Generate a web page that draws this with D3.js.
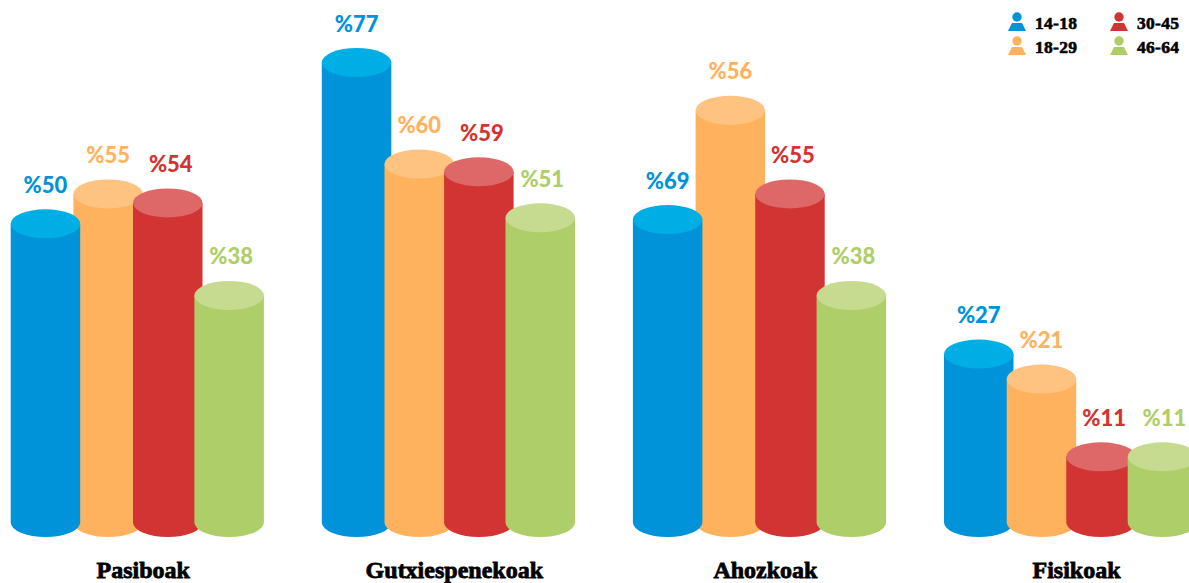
<!DOCTYPE html>
<html>
<head>
<meta charset="utf-8">
<script src="https://cdn.jsdelivr.net/npm/d3@7"></script>
<style>
  html, body { margin: 0; padding: 0; background: #fff; overflow: hidden; }
  .value { font-family: Lato, sans-serif; font-weight: 900; font-size: 22px; text-anchor: middle; }
  .category, .legend-text { font-family: "Liberation Serif", serif; font-weight: 700; fill: #000; stroke: #000; }
  .category { font-size: 24px; text-anchor: middle; stroke-width: 0.8px; }
  .legend-text { font-size: 17.5px; stroke-width: 0.6px; letter-spacing: 0.3px; }
</style>
</head>
<body>
<div id="container"></div>
<script>
const categories = ['Pasiboak', 'Gutxiespenekoak', 'Ahozkoak', 'Fisikoak'];
const ageGroups = ['14-18', '18-29', '30-45', '46-64'];

// printed labels
const labels1418 = [50, 77, 69, 27];
const labels1829 = [55, 60, 56, 21];
const labels3045 = [54, 59, 55, 11];
const labels4664 = [38, 51, 38, 11];

// bar heights as drawn, they don't always follow the label (Ahozkoak)
const heights1418 = [50, 77, 50.7, 28.2];
const heights1829 = [55, 60, 69, 24];
const heights3045 = [53.5, 58.7, 55, 11];
const heights4664 = [38, 51, 38, 11];

const bodyColors = ['#0093d9', '#ffb25e', '#d13432', '#aece69'];
const topColors = ['#00aee6', '#ffc381', '#de6868', '#c6da90'];

const svgWidth = 1189;
const svgHeight = 583;
const barWidth = 69.5;
const rx = barWidth / 2;
const ry = 14.5;

const svg = d3
  .select('#container')
  .append('svg')
  .attr('width', svgWidth)
  .attr('height', svgHeight)
  .style('display', 'block');

const groupX = d3.scalePoint().domain(categories).range([10.7, 944]);
const barOffset = d3.scaleOrdinal().domain(ageGroups).range([0, 62.7, 122.3, 183.7]);
const labelNudge = d3.scaleOrdinal().domain(ageGroups).range([0, 0, 3, 2]);
const y = d3.scaleLinear().domain([0, 77]).range([522.5, 62.5]);
const color = d3.scaleOrdinal().domain(ageGroups).range(bodyColors);
const topColor = d3.scaleOrdinal().domain(ageGroups).range(topColors);

const allLabels = [labels1418, labels1829, labels3045, labels4664];
const allHeights = [heights1418, heights1829, heights3045, heights4664];

const bars = ageGroups.flatMap((age, s) =>
  categories.map((category, c) => ({
    age,
    category,
    label: allLabels[s][c],
    height: allHeights[s][c]
  }))
);

// shorter cylinders stand in front of taller ones
const ordered = bars.slice().sort((a, b) => b.height - a.height);

const cylinder = d => {
  const left = groupX(d.category) + barOffset(d.age);
  const right = left + barWidth;
  return `M${left},${y(d.height)}V${y(0)}A${rx},${ry} 0 0 0 ${right},${y(0)}V${y(d.height)}Z`;
};

// Cylinders
const bar = svg
  .selectAll('g.bar')
  .data(ordered)
  .enter()
  .append('g')
  .attr('class', 'bar');

bar
  .append('path')
  .attr('d', cylinder)
  .attr('fill', d => color(d.age));

bar
  .append('ellipse')
  .attr('cx', d => groupX(d.category) + barOffset(d.age) + rx)
  .attr('cy', d => y(d.height))
  .attr('rx', rx)
  .attr('ry', ry)
  .attr('fill', d => topColor(d.age));

// Value labels
svg
  .selectAll('text.value')
  .data(bars)
  .enter()
  .append('text')
  .attr('class', 'value')
  .attr('x', d => groupX(d.category) + barOffset(d.age) + rx + labelNudge(d.age))
  .attr('y', d => y(d.height) - 31)
  .attr('fill', d => color(d.age))
  .text(d => `%${d.label}`);

// Category labels
svg
  .selectAll('text.category')
  .data(categories)
  .enter()
  .append('text')
  .attr('class', 'category')
  .attr('x', d => groupX(d) + 132.5)
  .attr('y', 578)
  .text(d => d);

// Legend
const legendX = d3.scaleOrdinal().domain(ageGroups).range([1017, 1017, 1119, 1119]);
const legendY = d3.scaleOrdinal().domain(ageGroups).range([17, 41, 17, 41]);

const legend = svg
  .selectAll('g.legend-item')
  .data(ageGroups)
  .enter()
  .append('g')
  .attr('class', 'legend-item')
  .attr('transform', d => `translate(${legendX(d)},${legendY(d)})`);

legend
  .append('circle')
  .attr('r', 4.7)
  .attr('fill', d => color(d));

legend
  .append('path')
  .attr('d', 'M-5,6H5L9,14H-9Z')
  .attr('fill', d => color(d));

legend
  .append('text')
  .attr('class', 'legend-text')
  .attr('x', 18)
  .attr('y', 12)
  .text(d => d);
</script>
</body>
</html>
